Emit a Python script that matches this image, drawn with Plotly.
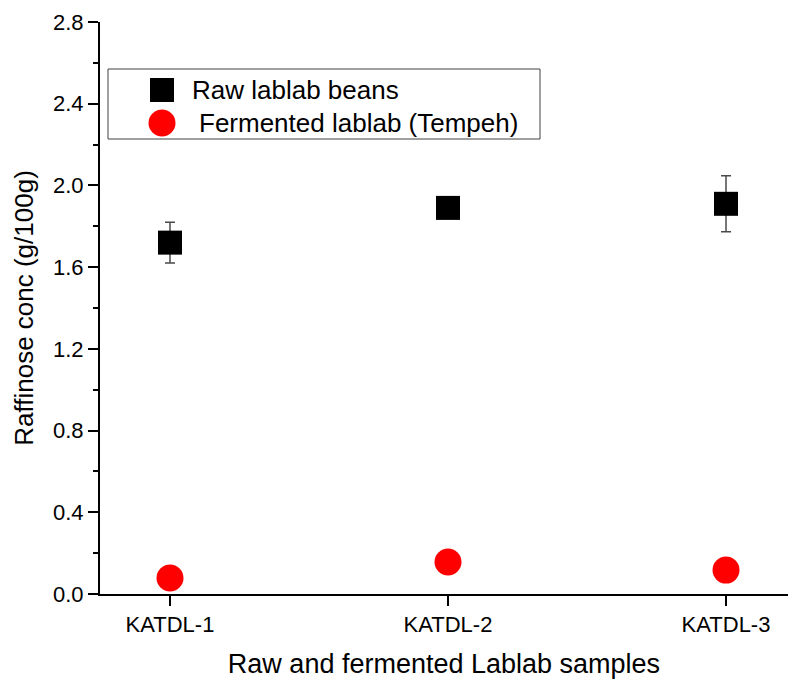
import plotly.graph_objects as go

# Sample categories and measured raffinose concentrations (g/100g)
samples = ["KATDL-1", "KATDL-2", "KATDL-3"]
raw_conc = [1.72, 1.89, 1.91]
raw_err = [0.10, 0.04, 0.137]
tempeh_conc = [0.078, 0.157, 0.117]
series_names = ["Raw lablab beans", "Fermented lablab (Tempeh)"]
y_tick_values = [0.0, 0.4, 0.8, 1.2, 1.6, 2.0, 2.4, 2.8]

FONT = "Arial, 'Liberation Sans', Helvetica, sans-serif"
W, H = 788, 679
ML, MR, MT, MB = 100, 0, 22, 85


def paper_x(px):
    return (px - ML) / (W - ML - MR)


def paper_y(py):
    return (H - MB - py) / (H - MT - MB)


fig = go.Figure()

fig.add_trace(go.Scatter(
    x=samples, y=raw_conc, mode="markers", name=series_names[0],
    marker=dict(symbol="square", size=24, color="black", line=dict(width=0)),
    error_y=dict(type="data", array=raw_err, visible=True,
                 color="#4a4a4a", thickness=1.5, width=5),
    showlegend=False,
))
fig.add_trace(go.Scatter(
    x=samples, y=tempeh_conc, mode="markers", name=series_names[1],
    marker=dict(symbol="circle", size=27, color="#ff0000", line=dict(width=0)),
    showlegend=False,
))

axis_common = dict(showline=True, linecolor="black", linewidth=2,
                   showgrid=False, zeroline=False, tickcolor="black",
                   tickwidth=2)

fig.update_layout(
    width=W, height=H,
    margin=dict(l=ML, r=MR, t=MT, b=MB, pad=0),
    paper_bgcolor="white", plot_bgcolor="white",
    font=dict(family=FONT, color="black"),
    xaxis=dict(
        **axis_common, type="category", categoryarray=samples,
        range=[-0.2518, 2.223], ticks="outside", ticklen=10,
        tickfont=dict(size=22, family=FONT),
        title=dict(text="Raw and fermented Lablab samples",
                   font=dict(size=27, family=FONT), standoff=20),
    ),
    xaxis2=dict(
        **axis_common, overlaying="x", side="top", type="linear",
        range=[-0.2518, 2.223], tickvals=[0, 1, 2], ticks="inside",
        ticklen=10, showticklabels=False,
    ),
    yaxis=dict(
        **axis_common, range=[0, 2.8], tickvals=y_tick_values,
        tickformat=".1f", ticks="outside", ticklen=10,
        tickfont=dict(size=22, family=FONT),
        minor=dict(dtick=0.2, ticks="outside", ticklen=5, tickwidth=2,
                   tickcolor="black", showgrid=False),
        title=dict(text="Raffinose conc (g/100g)",
                   font=dict(size=26, family=FONT), standoff=12),
    ),
    showlegend=False,
)

# Legend panel: box, symbols and labels
shapes = [
    dict(type="rect", xref="paper", yref="paper",
         x0=paper_x(108), x1=paper_x(540), y0=paper_y(139), y1=paper_y(69),
         line=dict(color="#404040", width=1), fillcolor="white", layer="above"),
    dict(type="rect", xref="paper", yref="paper",
         x0=paper_x(150), x1=paper_x(174), y0=paper_y(102), y1=paper_y(78),
         line=dict(width=0), fillcolor="black", layer="above"),
    dict(type="circle", xref="paper", yref="paper",
         x0=paper_x(148.5), x1=paper_x(175.5), y0=paper_y(136.5), y1=paper_y(109.5),
         line=dict(width=0), fillcolor="#ff0000", layer="above"),
]
fig.update_layout(shapes=shapes)

annotations = [
    dict(text=series_names[0], xref="paper", yref="paper",
         x=paper_x(190), y=paper_y(90), xanchor="left", yanchor="middle",
         showarrow=False, font=dict(size=26, family=FONT, color="black")),
    dict(text=series_names[1], xref="paper", yref="paper",
         x=paper_x(197), y=paper_y(123), xanchor="left", yanchor="middle",
         showarrow=False, font=dict(size=26, family=FONT, color="black")),
]
fig.update_layout(annotations=annotations)

fig.write_html("out.html")
